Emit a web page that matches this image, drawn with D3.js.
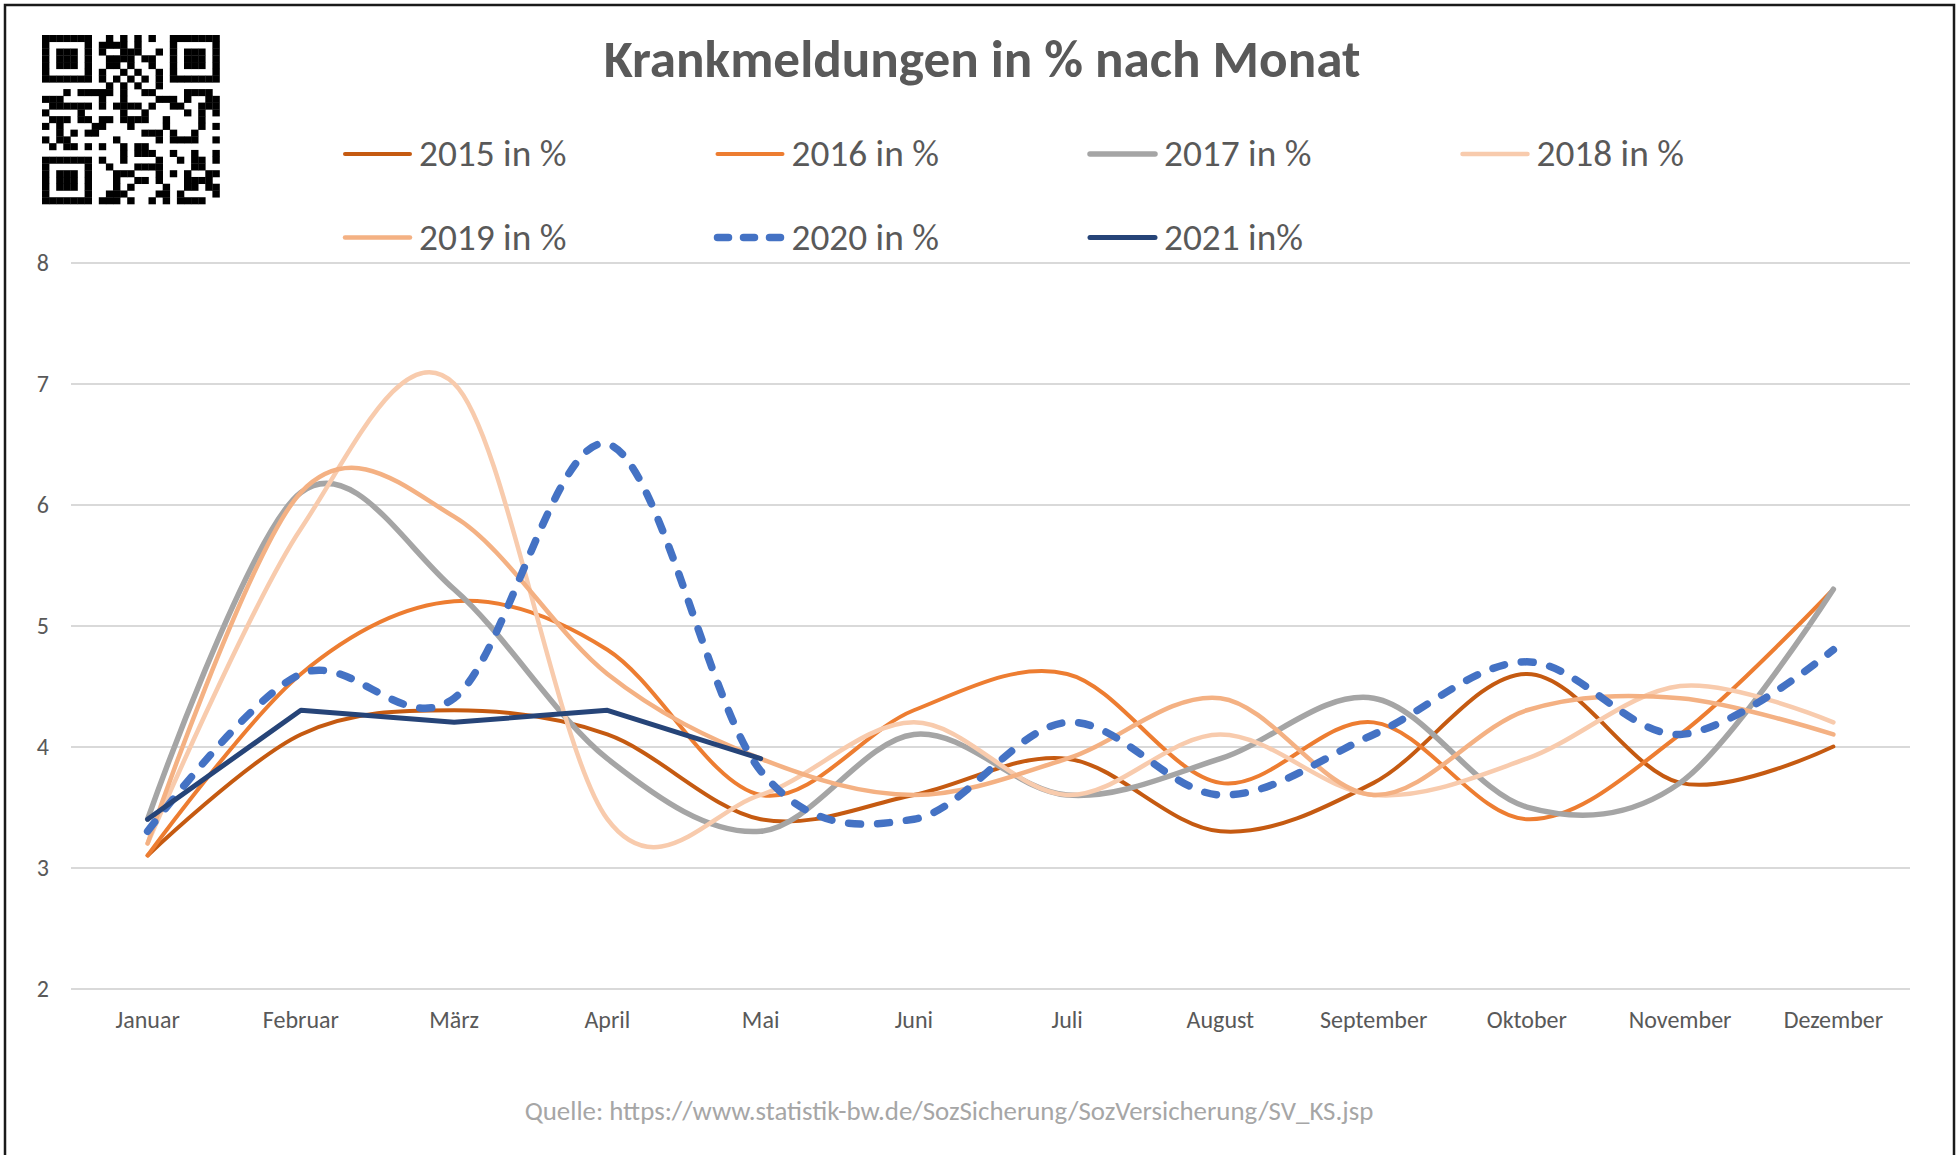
<!DOCTYPE html>
<html>
<head>
<meta charset="utf-8">
<script src="https://cdn.jsdelivr.net/npm/d3@7"></script>
<style>
  body { margin: 0; background: #fff; }
  text { font-family: Carlito, Calibri, Lato, 'Open Sans', sans-serif; }
</style>
</head>
<body>
<svg id="chart" width="1959" height="1155"></svg>
<script>
// data
var months = ['Januar', 'Februar', 'März', 'April', 'Mai', 'Juni', 'Juli', 'August', 'September', 'Oktober', 'November', 'Dezember']
var seriesNames = ['2015 in %', '2016 in %', '2017 in %', '2018 in %', '2019 in %', '2020 in %', '2021 in%']
var v2015 = [3.1, 4.1, 4.3, 4.1, 3.4, 3.6, 3.9, 3.3, 3.7, 4.6, 3.7, 4.0]
var v2016 = [3.1, 4.6, 5.2, 4.8, 3.6, 4.3, 4.6, 3.7, 4.2, 3.4, 4.1, 5.3]
var v2017 = [3.4, 6.1, 5.3, 3.9, 3.3, 4.1, 3.6, 3.9, 4.4, 3.5, 3.7, 5.3]
var v2018 = [3.2, 5.8, 7.0, 3.4, 3.6, 4.2, 3.6, 4.1, 3.6, 3.9, 4.5, 4.2]
var v2019 = [3.2, 6.1, 5.9, 4.6, 3.9, 3.6, 3.9, 4.4, 3.6, 4.3, 4.4, 4.1]
var v2020 = [3.3, 4.6, 4.4, 6.5, 3.8, 3.4, 4.2, 3.6, 4.1, 4.7, 4.1, 4.8]
var v2021 = [3.4, 4.3, 4.2, 4.3, 3.9]
var yTicks = [2, 3, 4, 5, 6, 7, 8]

// styles per series (same order as seriesNames)
var styles = [
  { color: '#C55A11', width: 4, dash: null, smooth: true },
  { color: '#ED7D31', width: 4, dash: null, smooth: true },
  { color: '#A5A5A5', width: 5.5, dash: null, smooth: true },
  { color: '#F8CBAD', width: 4.5, dash: null, smooth: true },
  { color: '#F4B183', width: 4.5, dash: null, smooth: true },
  { color: '#4472C4', width: 7.5, dash: '12,17', smooth: true },
  { color: '#264478', width: 5, dash: null, smooth: false }
]
var allValues = [v2015, v2016, v2017, v2018, v2019, v2020, v2021]

const svg = d3.select('#chart')
const plotLeft = 71, plotRight = 1910, plotTop = 262.5, plotBottom = 988.6

// frame
svg.append('rect')
  .attr('x', 5).attr('y', 5)
  .attr('width', 1949).attr('height', 1170)
  .attr('fill', 'none')
  .attr('stroke', '#1a1a1a')
  .attr('stroke-width', 2.5)

// scales
const xScale = d3.scaleBand().domain(months).range([plotLeft, plotRight]).padding(0)
const xPos = m => xScale(m) + xScale.bandwidth() / 2
const yScale = d3.scaleLinear().domain([2, 8]).range([plotBottom, plotTop])

// horizontal grid + y labels
const yAxis = svg.append('g')
  .attr('transform', `translate(${plotLeft},0)`)
  .call(d3.axisLeft(yScale).tickValues(yTicks).tickFormat(d3.format('d'))
    .tickSize(-(plotRight - plotLeft)).tickPadding(22))
yAxis.select('.domain').remove()
yAxis.selectAll('line').attr('stroke', '#D9D9D9').attr('stroke-width', 2)
yAxis.selectAll('text')
  .attr('fill', '#595959')
  .attr('font-size', 24)
  .attr('dy', '0.34em')

// x labels
const xAxis = svg.append('g')
  .attr('transform', `translate(0,${plotBottom})`)
  .call(d3.axisBottom(xScale).tickSize(0).tickPadding(0))
xAxis.select('.domain').remove()
xAxis.selectAll('text')
  .attr('fill', '#595959')
  .attr('font-size', 24)
  .attr('dy', null)
  .attr('y', 1028 - plotBottom)

// fit a text to a measured width from the reference
function fitWidth(sel, target) {
  var w = sel.node().getComputedTextLength()
  var fs = parseFloat(sel.attr('font-size'))
  return fs * target / w
}

// lines
var lineSmooth = d3.line()
  .x((d, i) => xPos(months[i]))
  .y(d => yScale(d))
  .curve(d3.curveCatmullRom.alpha(0))
var lineStraight = d3.line()
  .x((d, i) => xPos(months[i]))
  .y(d => yScale(d))

allValues.forEach(function(vals, i) {
  var s = styles[i]
  svg.append('path')
    .datum(vals)
    .attr('d', s.smooth ? lineSmooth : lineStraight)
    .attr('fill', 'none')
    .attr('stroke', s.color)
    .attr('stroke-width', s.width)
    .attr('stroke-linecap', 'round')
    .attr('stroke-linejoin', 'round')
    .attr('stroke-dasharray', s.dash)
})

// title
const title = svg.append('text')
  .attr('x', 982).attr('y', 77)
  .attr('text-anchor', 'middle')
  .attr('font-weight', 'bold')
  .attr('font-size', 50)
  .attr('fill', '#595959')
  .text('Krankmeldungen in % nach Monat')
title.attr('font-size', fitWidth(title, 757))

// legend
var legendCols = [342, 714.5, 1087, 1459.5]
var legendRows = [154, 237.5]
var legend = svg.append('g')
var legendSize = 37
seriesNames.forEach(function(name, i) {
  var s = styles[i]
  var lx = legendCols[i % 4], ly = legendRows[Math.floor(i / 4)]
  legend.append('line')
    .attr('x1', lx + 3).attr('x2', lx + 68)
    .attr('y1', ly).attr('y2', ly)
    .attr('stroke', s.color)
    .attr('stroke-width', s.width)
    .attr('stroke-linecap', 'round')
    .attr('stroke-dasharray', s.dash ? '11,15' : null)
  var t = legend.append('text')
    .attr('class', 'leg')
    .attr('x', lx + 77).attr('y', ly + 12)
    .attr('font-size', legendSize)
    .attr('fill', '#595959')
    .text(name)
  if (i === 0) legendSize = fitWidth(t, 147.5)
})
legend.selectAll('text.leg').attr('font-size', legendSize)

// source
const source = svg.append('text')
  .attr('x', 949).attr('y', 1120)
  .attr('text-anchor', 'middle')
  .attr('font-size', 24)
  .attr('fill', '#A6A6A6')
  .text('Quelle: https://www.statistik-bw.de/SozSicherung/SozVersicherung/SV_KS.jsp')
source.attr('font-size', fitWidth(source, 849))

// QR code in the top left corner (decorative)
var qrN = 25, qrX = 42, qrY = 35, qrW = 177.5, qrH = 169
var cw = qrW / qrN, ch = qrH / qrN
var qr = svg.append('g')
function qrDark(r, c) {
  var corners = [[0, 0], [0, qrN - 7], [qrN - 7, 0]]
  for (var k = 0; k < 3; k++) {
    var r0 = r - corners[k][0], c0 = c - corners[k][1]
    if (r0 >= -1 && r0 <= 7 && c0 >= -1 && c0 <= 7) {
      if (r0 < 0 || r0 > 6 || c0 < 0 || c0 > 6) return false
      if (r0 === 0 || r0 === 6 || c0 === 0 || c0 === 6) return true
      if (r0 >= 2 && r0 <= 4 && c0 >= 2 && c0 <= 4) return true
      return false
    }
  }
  if (r === 6) return c % 2 === 0
  if (c === 6) return r % 2 === 0
  var h = ((r * 73856093) ^ (c * 19349663) ^ (r * c * 83492791)) >>> 0
  return h % 9 < 4
}
for (var r = 0; r < qrN; r++) {
  for (var c = 0; c < qrN; c++) {
    if (qrDark(r, c)) {
      qr.append('rect')
        .attr('x', qrX + c * cw).attr('y', qrY + r * ch)
        .attr('width', cw + 0.3).attr('height', ch + 0.3)
        .attr('fill', '#000')
    }
  }
}
</script>
</body>
</html>
